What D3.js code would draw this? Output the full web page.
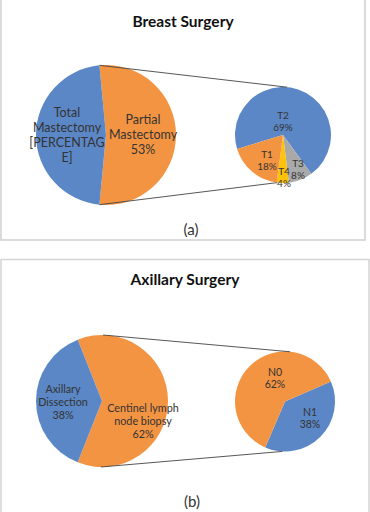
<!DOCTYPE html>
<html><head><meta charset="utf-8">
<script src="https://cdn.jsdelivr.net/npm/d3@7"></script>
<style>body{margin:0;background:#fff}svg{display:block}text{font-family:Lato,"Open Sans",sans-serif;fill:#333}</style>
</head><body><div id="c"></div>
<script>
// Panel (a): Breast Surgery
const breastCategories = ["Partial Mastectomy", "Total Mastectomy"];
const breastValues = [53, 47];
const breastLabels = [["Partial", "Mastectomy", "53%"], ["Total", "Mastectomy", "[PERCENTAG", "E]"]];
const tumorCategories = ["T2", "T3", "T4", "T1"];
const tumorValues = [69, 8, 4, 18];
const tumorPct = ["69%", "8%", "4%", "18%"];
// Panel (b): Axillary Surgery
const axCategories = ["Centinel lymph node biopsy", "Axillary Dissection"];
const axValues = [62, 38];
const axLabels = [["Centinel lymph", "node biopsy", "62%"], ["Axillary", "Dissection", "38%"]];
const nodeCategories = ["N1", "N0"];
const nodeValues = [38, 62];
const nodePct = ["38%", "62%"];

const colors = {blue:"#5b87c6", orange:"#f39442", gray:"#a9a9a9", yellow:"#fcc20c"};
const W = 370, H = 512;
const svg = d3.select("#c").append("svg").attr("width", W).attr("height", H);
const deg = Math.PI / 180;

// panel frames
svg.append("rect").attr("x",1).attr("y",-2).attr("width",364).attr("height",242)
  .attr("fill","none").attr("stroke","#cfcfcf").attr("stroke-width",1.5);
svg.append("rect").attr("x",1).attr("y",259.5).attr("width",368).attr("height",260)
  .attr("fill","none").attr("stroke","#d4d4d4").attr("stroke-width",1.5);

function pt(cx, cy, r, a){ return [cx + r*Math.sin(a), cy - r*Math.cos(a)]; }

function drawPanel(cfg){
  const g = svg.append("g");
  g.append("text").attr("x", cfg.titleX).attr("y", cfg.titleY).attr("text-anchor","middle")
    .attr("font-size", 15.5).attr("font-weight","bold").style("fill","#111").text(cfg.title);

  // big pie
  const bigPie = d3.pie().sort(null).value(d=>d).startAngle(cfg.bigStart).endAngle(cfg.bigStart + 2*Math.PI);
  const bigArc = d3.arc().innerRadius(0).outerRadius(cfg.bigR);
  const bg = g.append("g").attr("transform", `translate(${cfg.bigCx},${cfg.bigCy})`);
  const bArcs = bigPie(cfg.bigValues);
  bg.selectAll("path").data(bArcs).join("path").attr("d", bigArc)
    .attr("fill", (d,i)=>cfg.bigColors[i]);

  // small pie
  const smallPie = d3.pie().sort(null).value(d=>d).startAngle(cfg.smallStart).endAngle(cfg.smallStart + 2*Math.PI);
  const smallArc = d3.arc().innerRadius(0).outerRadius(cfg.smallR);
  const sg = g.append("g").attr("transform", `translate(${cfg.smallCx},${cfg.smallCy})`);
  const sArcs = smallPie(cfg.smallValues);
  sg.selectAll("path").data(sArcs).join("path").attr("d", smallArc)
    .attr("fill", (d,i)=>cfg.smallColors[i]);

  // connector lines
  const a1 = pt(cfg.bigCx, cfg.bigCy, cfg.bigR, cfg.connBig[0]);
  const b1 = pt(cfg.smallCx, cfg.smallCy, cfg.smallR, cfg.connSmall[0]);
  const a2 = pt(cfg.bigCx, cfg.bigCy, cfg.bigR, cfg.connBig[1]);
  const b2 = pt(cfg.smallCx, cfg.smallCy, cfg.smallR, cfg.connSmall[1]);
  [[a1,b1],[a2,b2]].forEach(([p,q])=>{
    g.append("line").attr("x1",p[0]).attr("y1",p[1]).attr("x2",q[0]).attr("y2",q[1])
      .attr("stroke","#444").attr("stroke-width",0.9);
  });

  // big labels
  cfg.bigLabels.forEach((lines,i)=>{
    const t = g.append("text").attr("text-anchor","middle").attr("font-size",cfg.bigFont);
    lines.forEach((s,j)=>{
      t.append("tspan").attr("x", cfg.bigLabelPos[i][0]).attr("y", cfg.bigLabelPos[i][1] + j*cfg.bigLH).text(s);
    });
  });
  // small labels
  cfg.smallCats.forEach((c,i)=>{
    const t = g.append("text").attr("text-anchor","middle").attr("font-size",cfg.smallFont);
    [c, cfg.smallPct[i]].forEach((s,j)=>{
      t.append("tspan").attr("x", cfg.smallLabelPos[i][0]).attr("y", cfg.smallLabelPos[i][1] + j*cfg.smallLH).text(s);
    });
  });

  g.append("text").attr("x", cfg.capX).attr("y", cfg.capY).attr("text-anchor","middle")
    .attr("font-size", 15).text(cfg.caption);
}

drawPanel({
  title:"Breast Surgery", titleX:183, titleY:27,
  bigCx:106, bigCy:135, bigR:70, bigStart:-5.4*deg, bigValues:breastValues,
  bigColors:[colors.orange, colors.blue], bigLabels:breastLabels,
  bigLabelPos:[[143,124],[67,117]], bigFont:12.5, bigLH:15,
  smallCx:283, smallCy:135, smallR:48, smallStart:-107*deg, smallValues:tumorValues,
  smallColors:[colors.blue, colors.gray, colors.yellow, colors.orange],
  smallCats:tumorCategories, smallPct:tumorPct,
  smallLabelPos:[[283,119],[298,167],[284,175],[267,158]], smallFont:10, smallLH:11.5,
  connBig:[-5.4*deg, 185.4*deg], connSmall:[5*deg, 187*deg],
  caption:"(a)", capX:191, capY:235
});

drawPanel({
  title:"Axillary Surgery", titleX:185, titleY:285,
  bigCx:102, bigCy:401, bigR:66, bigStart:-21.6*deg, bigValues:axValues,
  bigColors:[colors.orange, colors.blue], bigLabels:axLabels,
  bigLabelPos:[[143,412],[63,393]], bigFont:10.8, bigLH:12.8,
  smallCx:285, smallCy:401.5, smallR:50, smallStart:66.5*deg, smallValues:nodeValues,
  smallColors:[colors.blue, colors.orange],
  smallCats:nodeCategories, smallPct:nodePct,
  smallLabelPos:[[310,416],[275,376]], smallFont:10.5, smallLH:12,
  connBig:[1*deg, 181*deg], connSmall:[6*deg, 183*deg],
  caption:"(b)", capX:192, capY:507
});
</script></body></html>
